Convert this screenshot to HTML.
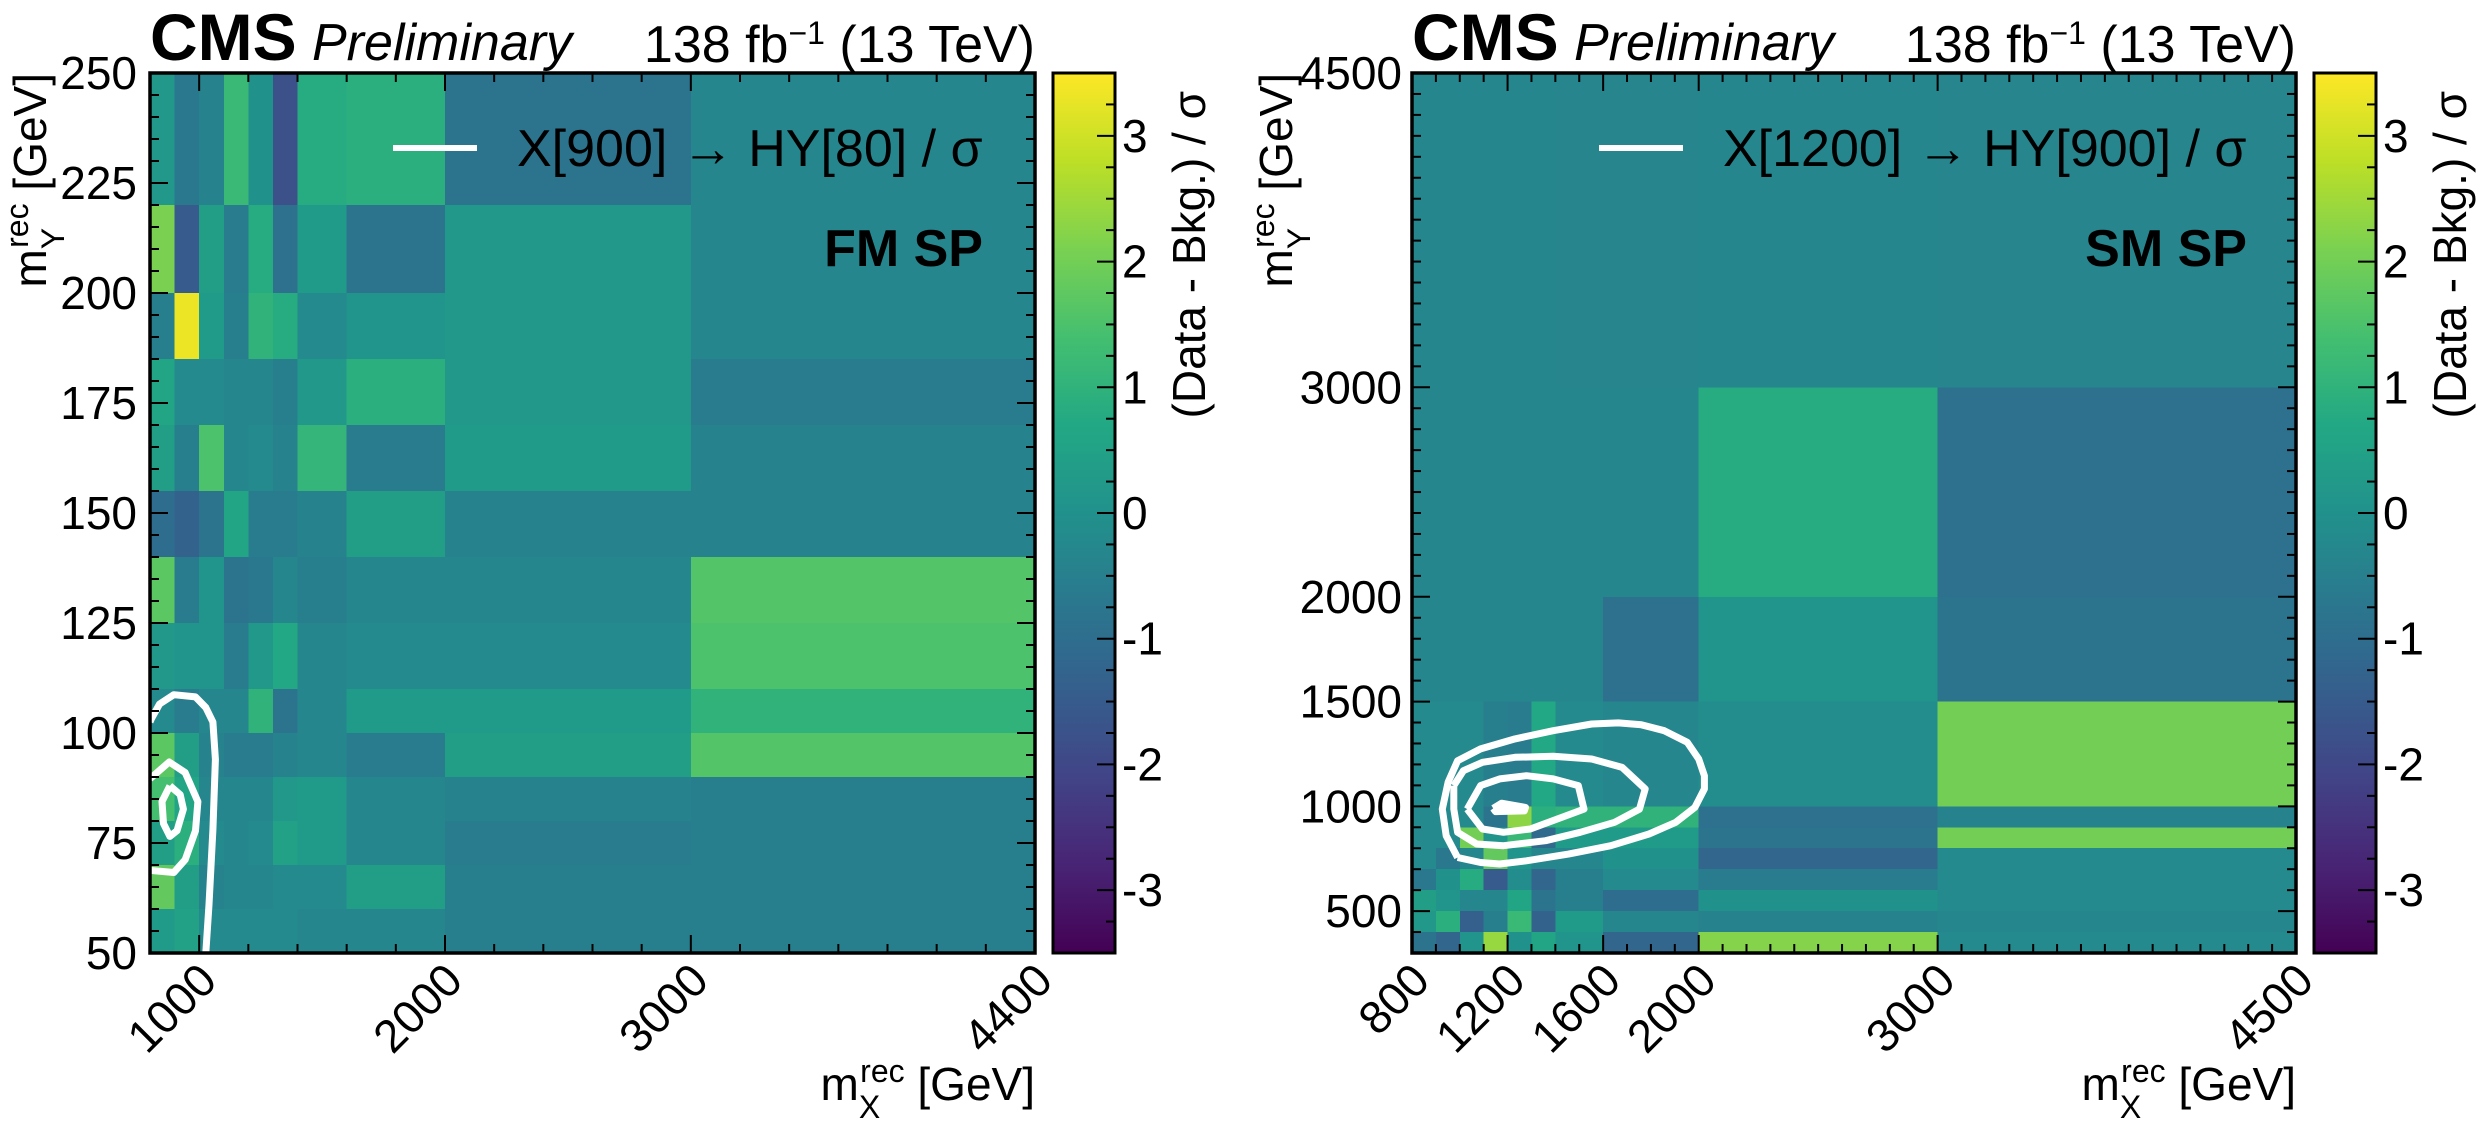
<!DOCTYPE html>
<html>
<head>
<meta charset="utf-8">
<style>
html,body{margin:0;padding:0;background:#fff;}
svg{display:block;}
text{font-family:"Liberation Sans",sans-serif;fill:#000;}
</style>
</head>
<body>
<svg id="fig" width="2485" height="1133" viewBox="0 0 2485 1133" xmlns="http://www.w3.org/2000/svg"></svg>
<script>
// ---------------- LEFT PANEL DATA (FM SP) ----------------
const leftXEdges = [800, 900, 1000, 1100, 1200, 1300, 1400, 1600, 2000, 3000, 4400];
const leftYEdges = [50, 60, 70, 80, 90, 100, 110, 125, 140, 155, 170, 185, 200, 220, 250];
// rows listed from TOP (220-250) to BOTTOM (50-60)
const leftValues = [
  [0.2, -0.7, -0.4, 1.2, 0.0, -1.8, 0.8, 0.9, -0.8, -0.3],
  [2.1, -1.5, 0.4, -0.6, 0.8, -0.9, 0.3, -0.8, 0.2, -0.3],
  [-0.5, 3.3, 0.3, -0.5, 1.0, 0.8, -0.2, 0.1, 0.2, -0.3],
  [0.6, -0.2, -0.2, -0.3, -0.3, -0.5, 0.2, 0.9, 0.2, -0.6],
  [0.4, -0.5, 1.5, -0.3, -0.2, -0.4, 1.1, -0.6, 0.3, -0.4],
  [-1.0, -1.3, -0.8, 0.6, -0.6, -0.6, -0.4, 0.4, -0.4, -0.4],
  [1.7, -0.6, 0.1, -0.8, -0.7, -0.3, -0.5, -0.3, -0.3, 1.6],
  [0.2, 0.1, 0.1, -0.6, 0.2, 0.7, -0.3, -0.2, -0.2, 1.5],
  [-0.2, -0.6, -0.3, -0.3, 1.0, -0.8, -0.3, 0.3, 0.3, 1.0],
  [1.7, 0.4, -0.4, -0.6, -0.6, -0.4, -0.3, -0.6, 0.4, 1.6],
  [1.4, 0.6, -0.3, -0.3, -0.3, 0.2, 0.3, -0.3, -0.4, -0.5],
  [0.4, 0.9, -0.2, -0.3, -0.2, 0.5, 0.3, -0.3, -0.6, -0.5],
  [1.8, 0.4, -0.4, -0.3, -0.3, -0.2, -0.2, 0.4, -0.5, -0.5],
  [0.3, 0.5, -0.2, -0.2, -0.2, -0.2, -0.3, -0.3, -0.5, -0.5]
];
const leftXTickLabels = [1000, 2000, 3000, 4400];
const leftYTickLabels = [50, 75, 100, 125, 150, 175, 200, 225, 250];
const leftContourOuter = [[1027,50],[1040,61],[1056,78],[1066,94],[1056,102.5],[1027,105.8],[985,108.2],[897,108.7],[839,106.6],[806,103.3],[800,102.5]];
const leftContourMid = [[800,89.6],[878,93.4],[943,91],[995,84.4],[985,77.8],[943,71.2],[897,68.3],[800,68.8]];
const leftContourInner = [[881,88],[923,86],[936,82.7],[910,77.8],[881,76.5],[855,79.4],[849,84.4],[881,88]];

// ---------------- RIGHT PANEL DATA (SM SP) ----------------
const rightXEdges = [800, 900, 1000, 1100, 1200, 1300, 1400, 1600, 2000, 3000, 4500];
const rightYEdges = [300, 400, 500, 600, 700, 800, 900, 1000, 1500, 2000, 3000, 4500];
// rows listed from TOP (3000-4500) to BOTTOM (300-400)
const rightValues = [
  [-0.3, -0.3, -0.3, -0.3, -0.3, -0.3, -0.35, -0.35, -0.3, -0.35],
  [-0.3, -0.3, -0.3, -0.3, -0.3, -0.3, -0.3, -0.3, 0.8, -0.9],
  [-0.3, -0.3, -0.3, -0.3, -0.3, -0.3, -0.3, -0.9, 0.1, -0.8],
  [-0.2, -0.2, -0.2, -0.5, -0.6, 0.7, -0.2, -0.3, -0.1, 2.0],
  [-0.2, -0.2, -0.2, -0.8, 2.3, 0.9, 1.0, 1.0, -0.9, -0.4],
  [-0.2, -0.2, 2.0, 0.1, 1.2, -1.1, 0.3, 0.3, -0.8, 2.0],
  [-0.2, -0.7, -0.3, 1.8, 0.1, -0.3, -0.3, 0.0, -1.2, -0.2],
  [-0.7, 0.0, 0.8, -1.5, -0.1, -1.2, -0.5, -0.2, -0.6, -0.2],
  [0.4, 0.1, -0.3, -0.3, 0.6, -0.8, -0.5, -1.0, 0.0, -0.2],
  [0.2, 0.9, -1.4, -0.5, 1.2, -1.3, 0.3, -0.3, -0.4, -0.3],
  [-0.8, -1.2, 0.1, 2.4, 0.0, 0.6, 0.1, -1.2, 2.2, -0.2]
];
const rightXTickLabels = [800, 1200, 1600, 2000, 3000, 4500];
const rightYTickLabels = [500, 1000, 1500, 2000, 3000, 4500];
const rightContourOuter = [[991,756],[943,860],[927,987],[951,1115],[991,1218],[1087,1274],[1231,1322],[1391,1361],[1552,1393],[1664,1398],[1760,1389],[1856,1361],[1952,1306],[2000,1226],[2024,1146],[2024,1083],[1984,995],[1904,924],[1792,868],[1632,812],[1455,772],[1279,740],[1167,725],[1087,732],[991,756]];
const rightContourMid = [[975,1099],[1015,1170],[1095,1210],[1231,1234],[1391,1239],[1552,1226],[1680,1186],[1776,1083],[1752,987],[1648,924],[1504,876],[1359,836],[1183,812],[1071,820],[991,876],[975,987],[975,1099]];
const rightContourInner = [[1031,987],[1087,1099],[1167,1131],[1279,1146],[1391,1131],[1496,1099],[1520,987],[1407,939],[1295,892],[1183,876],[1095,892],[1031,987]];
const rightContourPeak = [[1140,990],[1175,1015],[1275,995],[1270,978],[1150,975],[1140,990]];

const cbarTicks = [-3, -2, -1, 0, 1, 2, 3];
const cbarMin = -3.5, cbarMax = 3.5;

// ---------------- helpers ----------------
const NS = "http://www.w3.org/2000/svg";
const svg = document.getElementById("fig");
const VIR = ["#440154","#482475","#414487","#355f8d","#2a788e","#21918c","#22a884","#44bf70","#7ad151","#bddf26","#fde725"];
function hex2rgb(h){return [parseInt(h.substr(1,2),16),parseInt(h.substr(3,2),16),parseInt(h.substr(5,2),16)];}
function viridis(v){
  let t=(v-cbarMin)/(cbarMax-cbarMin); t=Math.max(0,Math.min(1,t));
  const f=t*10, i=Math.min(9,Math.floor(f)), r=f-i;
  const a=hex2rgb(VIR[i]), b=hex2rgb(VIR[i+1]);
  return "rgb("+a.map((c,k)=>Math.round(c+(b[k]-c)*r)).join(",")+")";
}
function el(tag, attrs, parent){
  const e=document.createElementNS(NS,tag);
  for(const k in attrs) e.setAttribute(k,attrs[k]);
  (parent||svg).appendChild(e); return e;
}

function drawPanel(p){
  const g = el("g",{});
  
  
  const xs = v => p.x0 + (v - p.xmin)/(p.xmax - p.xmin)*(p.x1 - p.x0);
  const ys = v => p.y1 - (v - p.ymin)/(p.ymax - p.ymin)*(p.y1 - p.y0);
  const nRows = p.values.length;
  for(let r=0;r<nRows;r++){
    const yi = nRows-1-r;
    for(let c=0;c<p.xEdges.length-1;c++){
      const xa=xs(p.xEdges[c]), xb=xs(p.xEdges[c+1]);
      const ya=ys(p.yEdges[yi+1]), yb=ys(p.yEdges[yi]);
      const rect = el("rect",{x:xa,y:ya,width:xb-xa+0.6,height:yb-ya+0.6,fill:viridis(p.values[r][c]),"shape-rendering":"crispEdges"},g);
      
      
    }
  }
  const clip = el("clipPath",{id:p.name+"-clip"},g);
  el("rect",{x:p.x0,y:p.y0,width:p.x1-p.x0,height:p.y1-p.y0},clip);
  p.contours.forEach(cn=>{
    const d = cn.pts.map((pt,i)=>(i?"L":"M")+xs(pt[0]).toFixed(1)+" "+ys(pt[1]).toFixed(1)).join(" ");
    const path = el("path",{d:d,fill:cn.fill?"#fff":"none",stroke:"#fff","stroke-width":7,"stroke-linejoin":"round","clip-path":"url(#"+p.name+"-clip)"},g);
    
    
  });
  const tk = el("g",{stroke:"#000","stroke-width":2},g);
  
  
  p.xMinor.forEach(v=>{
    const X=xs(v), L=p.xMajor.includes(v)?18:9;
    el("line",{x1:X,x2:X,y1:p.y1,y2:p.y1-L},tk);
    el("line",{x1:X,x2:X,y1:p.y0,y2:p.y0+L},tk);
  });
  p.yMinor.forEach(v=>{
    const Y=ys(v), L=p.yMajor.includes(v)?18:9;
    el("line",{x1:p.x0,x2:p.x0+L,y1:Y,y2:Y},tk);
    el("line",{x1:p.x1,x2:p.x1-L,y1:Y,y2:Y},tk);
  });
  const fr = el("rect",{x:p.x0,y:p.y0,width:p.x1-p.x0,height:p.y1-p.y0,fill:"none",stroke:"#000","stroke-width":3.5},g);
  
  
  p.xLabels.forEach(v=>{
    const X=xs(v);
    const t = el("text",{x:X+20,y:p.y1+30,"font-size":46,"text-anchor":"end",transform:"rotate(-45 "+(X+20)+" "+(p.y1+30)+")"},g);
    t.textContent=v;
    
    
  });
  p.yLabels.forEach(v=>{
    const Y=ys(v);
    const t = el("text",{x:p.ylabX,y:Y+16,"font-size":46,"text-anchor":"end"},g);
    t.textContent=v;
    
    
  });
  const cb = el("g",{},g);
  
  
  const gid = p.name+"-grad";
  const lg = el("linearGradient",{id:gid,x1:0,y1:1,x2:0,y2:0},cb);
  for(let i=0;i<=20;i++){ el("stop",{offset:i/20,"stop-color":viridis(cbarMin+(cbarMax-cbarMin)*i/20)},lg); }
  const cx0=p.cbX, cx1=p.cbX+62;
  el("rect",{x:cx0,y:p.y0,width:62,height:p.y1-p.y0,fill:"url(#"+gid+")"},cb);
  const cys = v => p.y1 - (v-cbarMin)/(cbarMax-cbarMin)*(p.y1-p.y0);
  for(let v=-3.25; v<=3.26; v+=0.25){
    const major = Math.abs(v-Math.round(v))<1e-6;
    const Y=cys(v);
    el("line",{x1:cx1,x2:cx1-(major?18:9),y1:Y,y2:Y,stroke:"#000","stroke-width":2},cb);
  }
  el("rect",{x:cx0,y:p.y0,width:62,height:p.y1-p.y0,fill:"none",stroke:"#000","stroke-width":3},cb);
  cbarTicks.forEach(v=>{
    const t = el("text",{x:cx1+7,y:cys(v)+16,"font-size":46},cb);
    t.textContent=v;
    
    
  });
  const cl = el("text",{x:cx1+90,y:p.y0+18,"font-size":46,"text-anchor":"end",transform:"rotate(-90 "+(cx1+90)+" "+(p.y0+18)+")"},cb);
  cl.textContent="(Data - Bkg.) / σ";
  
  
  const cms = el("text",{x:p.x0,y:60,"font-size":66,"font-weight":"bold"},g);
  cms.textContent="CMS";
  
  
  const pre = el("text",{x:p.x0+162,y:60,"font-size":52,"font-style":"italic"},g);
  pre.textContent="Preliminary";
  
  
  const lumi = el("text",{x:p.x1,y:62,"font-size":52,"text-anchor":"end"},g);
  lumi.innerHTML='138 fb<tspan baseline-shift="super" font-size="32">−1</tspan> (13 TeV)';
  
  
  const xt = el("text",{x:p.x1,y:1100,"font-size":46,"text-anchor":"end"},g);
  xt.innerHTML='m<tspan baseline-shift="sub" font-size="32">X</tspan><tspan dx="-20" baseline-shift="super" font-size="32">rec</tspan> [GeV]';
  
  
  const yt = el("text",{x:p.ytitleX,y:p.y0,"font-size":46,"text-anchor":"end",transform:"rotate(-90 "+p.ytitleX+" "+p.y0+")"},g);
  yt.innerHTML='m<tspan baseline-shift="sub" font-size="32">Y</tspan><tspan dx="-20" baseline-shift="super" font-size="32">rec</tspan> [GeV]';
  
  
  const lgd = el("g",{},g);
  
  
  el("line",{x1:p.legX,x2:p.legX+84,y1:148,y2:148,stroke:"#fff","stroke-width":6},lgd);
  const lt = el("text",{x:p.legX+124,y:166,"font-size":52},lgd);
  lt.textContent=p.legText;
  const cat = el("text",{x:p.catX,y:266,"font-size":52,"font-weight":"bold","text-anchor":"end"},g);
  cat.textContent=p.category;
  
  
}

function range(a,b,s){const r=[];for(let v=a;v<=b+1e-9;v+=s)r.push(Math.round(v*100)/100);return r;}

drawPanel({
  name:"left-panel", x0:150, x1:1035, y0:73, y1:953,
  xmin:800, xmax:4400, ymin:50, ymax:250,
  xEdges:leftXEdges, yEdges:leftYEdges, values:leftValues,
  xMinor:range(1000,4200,200), xMajor:[1000,2000,3000],
  yMinor:range(55,245,5), yMajor:[75,100,125,150,175,200,225],
  xLabels:leftXTickLabels, yLabels:leftYTickLabels, ylabX:137, ytitleX:46,
  cbX:1053,
  contours:[{pts:leftContourOuter},{pts:leftContourMid},{pts:leftContourInner}],
  legX:393, legText:"X[900] → HY[80] / σ", catX:983, category:"FM SP"
});
drawPanel({
  name:"right-panel", x0:1412, x1:2296, y0:73, y1:953,
  xmin:800, xmax:4500, ymin:300, ymax:4500,
  xEdges:rightXEdges, yEdges:rightYEdges, values:rightValues,
  xMinor:range(900,4400,100), xMajor:[1200,1600,2000,3000],
  yMinor:range(400,4400,100), yMajor:[500,1000,1500,2000,3000],
  xLabels:rightXTickLabels, yLabels:rightYTickLabels, ylabX:1402, ytitleX:1292,
  cbX:2314,
  contours:[{pts:rightContourOuter},{pts:rightContourMid},{pts:rightContourInner},{pts:rightContourPeak,fill:true}],
  legX:1599, legText:"X[1200] → HY[900] / σ", catX:2247, category:"SM SP"
});
</script>
</body>
</html>
